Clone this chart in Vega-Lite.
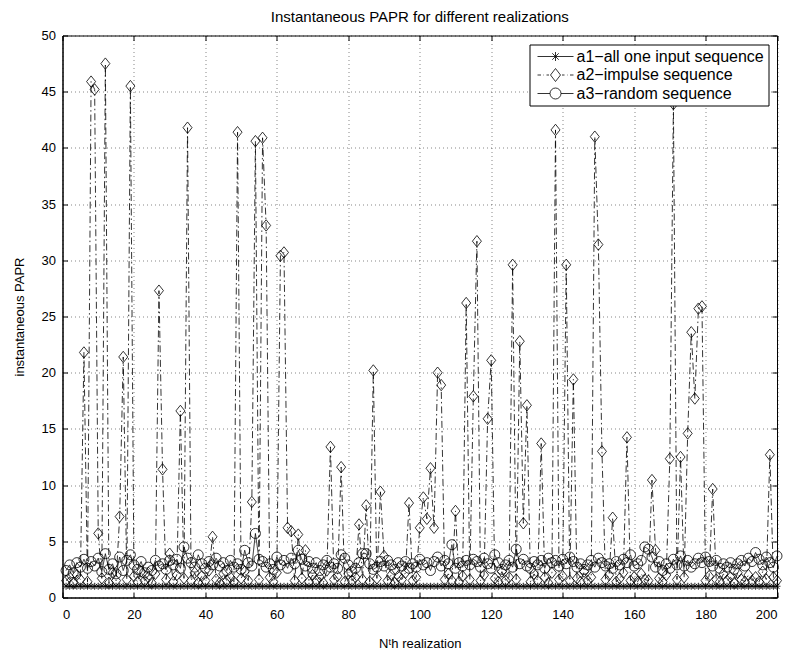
{
  "$schema": "https://vega.github.io/schema/vega-lite/v6.json",
  "width": 714.5,
  "height": 562,
  "autosize": {"type": "none"},
  "padding": {"left": 62.5, "top": 35.5, "right": 12, "bottom": 66.5},
  "title": {"text": "Instantaneous PAPR for different realizations", "font": "Liberation Sans", "fontSize": 15, "fontWeight": "normal", "color": "black", "offset": 5},
  "data": {"values": [
{"n":1,"a1":1,"a2":1.5,"a3":2.4},{"n":2,"a1":1,"a2":1.8,"a3":2.9},{"n":3,"a1":1,"a2":1.3,"a3":2.2},{"n":4,"a1":1,"a2":2.0,"a3":3.1},{"n":5,"a1":1,"a2":1.6,"a3":2.7},
{"n":6,"a1":1,"a2":21.8,"a3":3.4},{"n":7,"a1":1,"a2":1.4,"a3":2.6},{"n":8,"a1":1,"a2":45.9,"a3":3.2},{"n":9,"a1":1,"a2":45.2,"a3":2.8},{"n":10,"a1":1,"a2":5.7,"a3":3.5},
{"n":11,"a1":1,"a2":1.7,"a3":2.3},{"n":12,"a1":1,"a2":47.5,"a3":3.9},{"n":13,"a1":1,"a2":1.3,"a3":2.5},{"n":14,"a1":1,"a2":2.2,"a3":3.0},{"n":15,"a1":1,"a2":1.5,"a3":2.1},
{"n":16,"a1":1,"a2":7.2,"a3":3.6},{"n":17,"a1":1,"a2":21.4,"a3":2.4},{"n":18,"a1":1,"a2":1.6,"a3":3.3},{"n":19,"a1":1,"a2":45.5,"a3":3.8},{"n":20,"a1":1,"a2":1.9,"a3":2.9},
{"n":21,"a1":1,"a2":1.4,"a3":2.5},{"n":22,"a1":1,"a2":2.3,"a3":3.2},{"n":23,"a1":1,"a2":1.5,"a3":2.2},{"n":24,"a1":1,"a2":1.8,"a3":2.7},{"n":25,"a1":1,"a2":1.3,"a3":2.4},
{"n":26,"a1":1,"a2":2.1,"a3":3.3},{"n":27,"a1":1,"a2":27.3,"a3":2.8},{"n":28,"a1":1,"a2":11.4,"a3":3.0},{"n":29,"a1":1,"a2":1.6,"a3":2.5},{"n":30,"a1":1,"a2":3.9,"a3":3.3},
{"n":31,"a1":1,"a2":1.4,"a3":2.9},{"n":32,"a1":1,"a2":2.0,"a3":3.4},{"n":33,"a1":1,"a2":16.6,"a3":2.6},{"n":34,"a1":1,"a2":1.7,"a3":4.5},{"n":35,"a1":1,"a2":41.8,"a3":3.5},
{"n":36,"a1":1,"a2":1.5,"a3":3.1},{"n":37,"a1":1,"a2":2.2,"a3":2.7},{"n":38,"a1":1,"a2":1.3,"a3":3.8},{"n":39,"a1":1,"a2":1.9,"a3":3.0},{"n":40,"a1":1,"a2":1.5,"a3":2.6},
{"n":41,"a1":1,"a2":2.4,"a3":3.2},{"n":42,"a1":1,"a2":5.4,"a3":2.9},{"n":43,"a1":1,"a2":1.6,"a3":3.5},{"n":44,"a1":1,"a2":1.3,"a3":2.8},{"n":45,"a1":1,"a2":2.1,"a3":3.1},
{"n":46,"a1":1,"a2":1.5,"a3":2.4},{"n":47,"a1":1,"a2":1.8,"a3":3.3},{"n":48,"a1":1,"a2":1.4,"a3":2.7},{"n":49,"a1":1,"a2":41.4,"a3":3.0},{"n":50,"a1":1,"a2":1.7,"a3":2.5},
{"n":51,"a1":1,"a2":2.3,"a3":4.2},{"n":52,"a1":1,"a2":1.5,"a3":3.1},{"n":53,"a1":1,"a2":8.5,"a3":2.8},{"n":54,"a1":1,"a2":40.6,"a3":5.7},{"n":55,"a1":1,"a2":1.6,"a3":3.4},
{"n":56,"a1":1,"a2":40.9,"a3":3.2},{"n":57,"a1":1,"a2":33.1,"a3":2.7},{"n":58,"a1":1,"a2":1.8,"a3":3.0},{"n":59,"a1":1,"a2":1.4,"a3":2.5},{"n":60,"a1":1,"a2":2.2,"a3":3.6},
{"n":61,"a1":1,"a2":30.4,"a3":2.9},{"n":62,"a1":1,"a2":30.7,"a3":3.3},{"n":63,"a1":1,"a2":6.2,"a3":2.6},{"n":64,"a1":1,"a2":5.9,"a3":3.5},{"n":65,"a1":1,"a2":1.5,"a3":3.0},
{"n":66,"a1":1,"a2":5.6,"a3":4.2},{"n":67,"a1":1,"a2":1.7,"a3":3.4},{"n":68,"a1":1,"a2":4.2,"a3":2.8},{"n":69,"a1":1,"a2":1.4,"a3":3.2},{"n":70,"a1":1,"a2":2.0,"a3":2.6},
{"n":71,"a1":1,"a2":1.5,"a3":3.1},{"n":72,"a1":1,"a2":1.8,"a3":2.4},{"n":73,"a1":1,"a2":1.3,"a3":2.9},{"n":74,"a1":1,"a2":2.4,"a3":3.3},{"n":75,"a1":1,"a2":13.4,"a3":2.7},
{"n":76,"a1":1,"a2":1.6,"a3":3.0},{"n":77,"a1":1,"a2":1.9,"a3":2.6},{"n":78,"a1":1,"a2":11.6,"a3":3.8},{"n":79,"a1":1,"a2":1.4,"a3":3.5},{"n":80,"a1":1,"a2":2.1,"a3":2.9},
{"n":81,"a1":1,"a2":1.5,"a3":2.3},{"n":82,"a1":1,"a2":1.8,"a3":2.6},{"n":83,"a1":1,"a2":6.5,"a3":3.1},{"n":84,"a1":1,"a2":1.6,"a3":3.9},{"n":85,"a1":1,"a2":8.2,"a3":3.9},
{"n":86,"a1":1,"a2":1.4,"a3":3.0},{"n":87,"a1":1,"a2":20.2,"a3":2.5},{"n":88,"a1":1,"a2":1.7,"a3":2.7},{"n":89,"a1":1,"a2":9.4,"a3":3.2},{"n":90,"a1":1,"a2":3.7,"a3":2.8},
{"n":91,"a1":1,"a2":1.5,"a3":3.3},{"n":92,"a1":1,"a2":2.0,"a3":2.9},{"n":93,"a1":1,"a2":1.3,"a3":2.5},{"n":94,"a1":1,"a2":1.9,"a3":3.1},{"n":95,"a1":1,"a2":1.6,"a3":2.8},
{"n":96,"a1":1,"a2":2.2,"a3":3.2},{"n":97,"a1":1,"a2":8.4,"a3":2.6},{"n":98,"a1":1,"a2":1.5,"a3":3.0},{"n":99,"a1":1,"a2":1.8,"a3":2.7},{"n":100,"a1":1,"a2":6.2,"a3":3.4},
{"n":101,"a1":1,"a2":8.9,"a3":2.9},{"n":102,"a1":1,"a2":7.0,"a3":3.1},{"n":103,"a1":1,"a2":11.5,"a3":2.4},{"n":104,"a1":1,"a2":6.2,"a3":3.2},{"n":105,"a1":1,"a2":20.0,"a3":3.6},
{"n":106,"a1":1,"a2":18.9,"a3":2.8},{"n":107,"a1":1,"a2":1.6,"a3":3.3},{"n":108,"a1":1,"a2":2.1,"a3":3.0},{"n":109,"a1":1,"a2":1.5,"a3":4.7},{"n":110,"a1":1,"a2":7.7,"a3":2.6},
{"n":111,"a1":1,"a2":1.4,"a3":3.1},{"n":112,"a1":1,"a2":1.9,"a3":2.8},{"n":113,"a1":1,"a2":26.2,"a3":3.3},{"n":114,"a1":1,"a2":1.6,"a3":2.9},{"n":115,"a1":1,"a2":17.9,"a3":3.4},
{"n":116,"a1":1,"a2":31.7,"a3":3.2},{"n":117,"a1":1,"a2":1.5,"a3":2.7},{"n":118,"a1":1,"a2":2.0,"a3":3.5},{"n":119,"a1":1,"a2":15.9,"a3":3.0},{"n":120,"a1":1,"a2":21.1,"a3":2.6},
{"n":121,"a1":1,"a2":1.7,"a3":3.8},{"n":122,"a1":1,"a2":1.4,"a3":3.1},{"n":123,"a1":1,"a2":2.3,"a3":2.5},{"n":124,"a1":1,"a2":1.5,"a3":2.9},{"n":125,"a1":1,"a2":1.8,"a3":3.3},
{"n":126,"a1":1,"a2":29.6,"a3":2.7},{"n":127,"a1":1,"a2":1.6,"a3":4.3},{"n":128,"a1":1,"a2":22.8,"a3":3.0},{"n":129,"a1":1,"a2":6.6,"a3":3.4},{"n":130,"a1":1,"a2":17.1,"a3":2.8},
{"n":131,"a1":1,"a2":1.4,"a3":2.6},{"n":132,"a1":1,"a2":2.1,"a3":3.2},{"n":133,"a1":1,"a2":1.5,"a3":2.9},{"n":134,"a1":1,"a2":13.7,"a3":3.3},{"n":135,"a1":1,"a2":1.8,"a3":2.6},
{"n":136,"a1":1,"a2":1.3,"a3":3.5},{"n":137,"a1":1,"a2":2.2,"a3":3.1},{"n":138,"a1":1,"a2":41.6,"a3":3.3},{"n":139,"a1":1,"a2":1.6,"a3":2.8},{"n":140,"a1":1,"a2":1.9,"a3":3.4},
{"n":141,"a1":1,"a2":29.6,"a3":3.0},{"n":142,"a1":1,"a2":1.5,"a3":3.6},{"n":143,"a1":1,"a2":19.4,"a3":3.2},{"n":144,"a1":1,"a2":1.7,"a3":2.7},{"n":145,"a1":1,"a2":1.4,"a3":3.0},
{"n":146,"a1":1,"a2":2.3,"a3":2.5},{"n":147,"a1":1,"a2":1.5,"a3":2.9},{"n":148,"a1":1,"a2":1.8,"a3":3.3},{"n":149,"a1":1,"a2":41.0,"a3":2.7},{"n":150,"a1":1,"a2":31.4,"a3":3.5},
{"n":151,"a1":1,"a2":13.0,"a3":3.1},{"n":152,"a1":1,"a2":1.6,"a3":2.8},{"n":153,"a1":1,"a2":2.0,"a3":3.0},{"n":154,"a1":1,"a2":7.1,"a3":2.6},{"n":155,"a1":1,"a2":1.4,"a3":3.2},
{"n":156,"a1":1,"a2":1.7,"a3":2.9},{"n":157,"a1":1,"a2":2.2,"a3":3.4},{"n":158,"a1":1,"a2":14.25,"a3":3.1},{"n":159,"a1":1,"a2":1.5,"a3":3.8},{"n":160,"a1":1,"a2":1.8,"a3":2.8},
{"n":161,"a1":1,"a2":1.4,"a3":3.0},{"n":162,"a1":1,"a2":2.1,"a3":3.3},{"n":163,"a1":1,"a2":1.6,"a3":4.5},{"n":164,"a1":1,"a2":1.5,"a3":4.3},{"n":165,"a1":1,"a2":10.45,"a3":3.6},
{"n":166,"a1":1,"a2":4.2,"a3":2.7},{"n":167,"a1":1,"a2":1.7,"a3":3.2},{"n":168,"a1":1,"a2":1.4,"a3":2.4},{"n":169,"a1":1,"a2":2.0,"a3":3.0},{"n":170,"a1":1,"a2":12.35,"a3":2.6},
{"n":171,"a1":1,"a2":43.9,"a3":3.4},{"n":172,"a1":1,"a2":1.6,"a3":2.9},{"n":173,"a1":1,"a2":12.5,"a3":3.7},{"n":174,"a1":1,"a2":1.8,"a3":2.8},{"n":175,"a1":1,"a2":14.6,"a3":3.3},
{"n":176,"a1":1,"a2":23.6,"a3":2.7},{"n":177,"a1":1,"a2":17.7,"a3":3.0},{"n":178,"a1":1,"a2":25.7,"a3":3.5},{"n":179,"a1":1,"a2":25.9,"a3":3.1},{"n":180,"a1":1,"a2":1.5,"a3":3.6},
{"n":181,"a1":1,"a2":1.9,"a3":3.2},{"n":182,"a1":1,"a2":9.65,"a3":2.8},{"n":183,"a1":1,"a2":1.6,"a3":3.3},{"n":184,"a1":1,"a2":1.4,"a3":2.6},{"n":185,"a1":1,"a2":2.1,"a3":3.0},
{"n":186,"a1":1,"a2":1.5,"a3":2.7},{"n":187,"a1":1,"a2":1.8,"a3":3.1},{"n":188,"a1":1,"a2":1.3,"a3":2.5},{"n":189,"a1":1,"a2":2.2,"a3":3.0},{"n":190,"a1":1,"a2":1.6,"a3":3.3},
{"n":191,"a1":1,"a2":1.4,"a3":2.8},{"n":192,"a1":1,"a2":2.0,"a3":3.5},{"n":193,"a1":1,"a2":1.5,"a3":3.2},{"n":194,"a1":1,"a2":1.8,"a3":4.0},{"n":195,"a1":1,"a2":1.4,"a3":3.4},
{"n":196,"a1":1,"a2":2.3,"a3":2.9},{"n":197,"a1":1,"a2":1.6,"a3":3.6},{"n":198,"a1":1,"a2":12.7,"a3":3.1},{"n":199,"a1":1,"a2":1.8,"a3":2.7},{"n":200,"a1":1,"a2":1.5,"a3":3.7}
  ]},
  "transform": [{"fold": ["a1", "a2", "a3"], "as": ["s", "v"]}],
  "layer": [
    {
      "encoding": {
        "x": {"field": "n", "type": "quantitative", "scale": {"domain": [0, 200], "nice": false, "zero": false},
          "axis": {"values": [0, 20, 40, 60, 80, 100, 120, 140, 160, 180, 200], "title": "Nᵗh realization", "titlePadding": 16, "labelPadding": 15.5}},
        "y": {"field": "v", "type": "quantitative", "scale": {"domain": [0, 50], "nice": false},
          "axis": {"values": [0, 5, 10, 15, 20, 25, 30, 35, 40, 45, 50], "title": "instantaneous PAPR", "titlePadding": 15}}
      },
      "layer": [
        {
          "mark": {"type": "line", "color": "black", "strokeWidth": 0.8},
          "encoding": {
            "detail": {"field": "s"},
            "strokeDash": {"field": "s", "type": "nominal", "scale": {"domain": ["a1", "a2", "a3"], "range": [[1, 0], [7, 3, 1.5, 3], [1, 0]]}, "legend": null}
          }
        },
        {
          "mark": {"type": "point", "filled": false, "color": "black", "strokeWidth": 0.8, "opacity": 1},
          "encoding": {
            "shape": {"field": "s", "type": "nominal", "scale": {"domain": ["a1", "a2", "a3"], "range": ["M-1,0L1,0M0,-1L0,1M-0.7,-0.7L0.7,0.7M-0.7,0.7L0.7,-0.7", "M0,-1.2L0.95,0L0,1.2L-0.95,0Z", "circle"]}, "legend": null},
            "size": {"field": "s", "type": "ordinal", "scale": {"type": "ordinal", "domain": ["a1", "a2", "a3"], "range": [49, 90, 100]}, "legend": null}
          }
        }
      ]
    },
    {
      "transform": [{"filter": "datum.n < 0"}],
      "mark": {"type": "point", "filled": false, "color": "black", "strokeWidth": 0.8, "opacity": 1, "size": 64},
      "encoding": {
        "x": {"field": "n", "type": "quantitative", "scale": {"domain": [0, 200], "nice": false, "zero": false}, "axis": {"orient": "top", "values": [0, 20, 40, 60, 80, 100, 120, 140, 160, 180, 200], "labels": false, "title": null, "grid": false, "domain": false}},
        "y": {"field": "v", "type": "quantitative", "scale": {"domain": [0, 50], "nice": false}, "axis": {"orient": "right", "values": [0, 5, 10, 15, 20, 25, 30, 35, 40, 45, 50], "labels": false, "title": null, "grid": false, "domain": false}},
        "shape": {"field": "s", "type": "nominal",
          "scale": {"domain": ["a1", "a2", "a3"], "range": [
            "M-3.6,0L3.6,0M0,-0.9L0,0.9M-0.65,-0.65L0.65,0.65M-0.65,0.65L0.65,-0.65",
            "M-3.6,0L-2.9,0M-2.4,0L-2.3,0M-1.8,0L-1.3,0M0,-1.3L1,0L0,1.3L-1,0ZM1.3,0L1.8,0M2.3,0L2.4,0M2.9,0L3.6,0",
            "M-3.6,0L-1.1,0M1.1,0L3.6,0M1.1,0A1.1,1.1 0 1,1 -1.1,0A1.1,1.1 0 1,1 1.1,0"]},
          "legend": {"title": null, "orient": "top-right", "offset": 9, "symbolOffset": 14, "labelOffset": 13, "padding": 4,
            "labelExpr": "datum.label == 'a1' ? 'a1−all one input sequence' : datum.label == 'a2' ? 'a2−impulse sequence' : 'a3−random sequence'"}}
      }
    }
  ],
  "resolve": {"scale": {"shape": "independent"}, "axis": {"x": "independent", "y": "independent"}},
  "config": {
    "view": {"stroke": "black", "strokeWidth": 1},
    "axis": {"labelFont": "Liberation Sans", "labelFontSize": 13, "labelColor": "black", "titleFont": "Liberation Sans", "titleFontSize": 13, "titleFontWeight": "normal", "titleColor": "black", "domainColor": "black", "domainWidth": 1, "tickColor": "black", "tickSize": -5, "tickWidth": 1, "labelPadding": 12, "gridColor": "black", "gridDash": [1, 3], "gridOpacity": 0.6, "gridWidth": 0.8},
    "legend": {"strokeColor": "black", "fillColor": "white", "labelFont": "Liberation Sans", "labelFontSize": 16, "labelColor": "black", "labelLimit": 400, "rowPadding": 1.5, "symbolStrokeColor": "black", "symbolStrokeWidth": 0.8, "cornerRadius": 0}
  }
}
